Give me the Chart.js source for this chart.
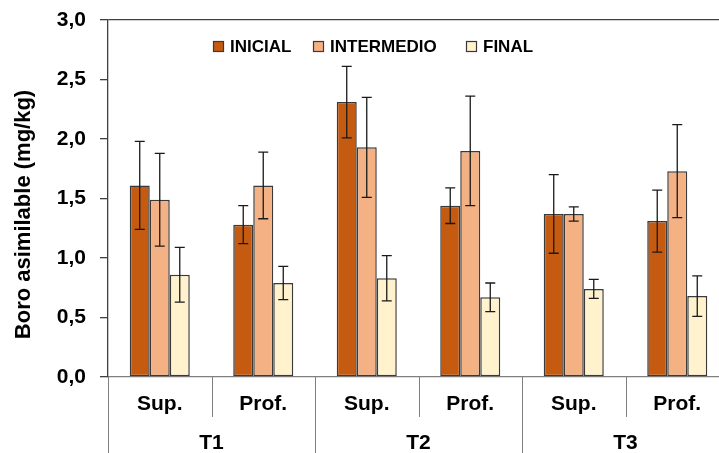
<!DOCTYPE html>
<html lang="es">
<head>
<meta charset="utf-8">
<title>Boro asimilable</title>
<script src="https://cdn.jsdelivr.net/npm/chart.js@4.4.1/dist/chart.umd.min.js"></script>
<style>
  html, body { margin: 0; padding: 0; background: #ffffff; overflow: hidden; }
  #wrap { position: relative; width: 729px; height: 453px; }
</style>
</head>
<body>
<div id="wrap"><canvas id="chart"></canvas></div>
<script>
// Profundidad de muestreo (eje principal) y tratamiento (eje agrupado)
const depths = ['Sup.', 'Prof.', 'Sup.', 'Prof.', 'Sup.', 'Prof.'];
const treatments = ['T1', 'T2', 'T3'];
const yTicks = [0, 0.5, 1, 1.5, 2, 2.5, 3];

// Boro asimilable (mg/kg): media y desviación por muestreo
const inicial = [1.61, 1.28, 2.31, 1.44, 1.37, 1.31];
const inicialErr = [0.37, 0.16, 0.30, 0.15, 0.33, 0.26];
const intermedio = [1.49, 1.61, 1.93, 1.90, 1.37, 1.73];
const intermedioErr = [0.39, 0.28, 0.42, 0.46, 0.06, 0.39];
const final = [0.86, 0.79, 0.83, 0.67, 0.74, 0.68];
const finalErr = [0.23, 0.14, 0.19, 0.12, 0.08, 0.17];

const FONT = '"Liberation Sans", Arial, sans-serif';
Chart.defaults.font.family = FONT;
Chart.defaults.color = '#000000';

const datasets = [
  { label: 'INICIAL', data: inicial, err: inicialErr, backgroundColor: '#C55A11' },
  { label: 'INTERMEDIO', data: intermedio, err: intermedioErr, backgroundColor: '#F4B183' },
  { label: 'FINAL', data: final, err: finalErr, backgroundColor: '#FFF2CC' }
].map(d => Object.assign(d, {
  borderColor: '#3a3a3a',
  borderWidth: 1.5,
  borderSkipped: false,
  categoryPercentage: 0.58,
  barPercentage: 1.0
}));

// Barras de error (media ± desviación) sobre cada barra
const errorBars = {
  id: 'errorBars',
  afterDatasetsDraw(chart) {
    const ctx = chart.ctx;
    const y = chart.scales.y;
    ctx.save();
    ctx.strokeStyle = '#1a1a1a';
    ctx.lineWidth = 1.3;
    chart.data.datasets.forEach((ds, di) => {
      const meta = chart.getDatasetMeta(di);
      meta.data.forEach((bar, i) => {
        const v = ds.data[i], e = ds.err[i];
        const yTop = y.getPixelForValue(v + e);
        const yBot = y.getPixelForValue(v - e);
        const half = 5;
        ctx.beginPath();
        ctx.moveTo(bar.x, yTop); ctx.lineTo(bar.x, yBot);
        ctx.moveTo(bar.x - half, yTop); ctx.lineTo(bar.x + half, yTop);
        ctx.moveTo(bar.x - half, yBot); ctx.lineTo(bar.x + half, yBot);
        ctx.stroke();
      });
    });
    ctx.restore();
  }
};

// Leyenda dentro del área de trazado, título del eje Y y separadores de categorías
const decorations = {
  id: 'decorations',
  afterDraw(chart) {
    const ctx = chart.ctx;
    const area = chart.chartArea;
    const x = chart.scales.x;
    ctx.save();

    // separadores verticales bajo el eje X
    const step = x.width / depths.length;
    ctx.strokeStyle = '#7f7f7f';
    ctx.lineWidth = 1;
    for (let i = 0; i <= depths.length; i++) {
      const px = Math.round(x.left + i * step) + 0.5;
      const end = (i % 2 === 0) ? chart.height : area.bottom + 40;
      ctx.beginPath();
      ctx.moveTo(px, area.bottom);
      ctx.lineTo(px, end);
      ctx.stroke();
    }

    // leyenda
    ctx.font = 'bold 17px ' + FONT;
    ctx.textBaseline = 'middle';
    ctx.textAlign = 'left';
    const offsets = [105, 205, 358];
    chart.data.datasets.forEach((ds, i) => {
      const bx = area.left + offsets[i];
      const by = area.top + 21;
      ctx.fillStyle = ds.backgroundColor;
      ctx.fillRect(bx, by, 11, 11);
      ctx.strokeStyle = '#3a3a3a';
      ctx.lineWidth = 1.2;
      ctx.strokeRect(bx + 0.5, by + 0.5, 10, 10);
      ctx.fillStyle = '#000000';
      ctx.fillText(ds.label, bx + 17, by + 6.5);
    });

    // título del eje Y
    ctx.translate(24, (area.top + area.bottom) / 2 + 16);
    ctx.rotate(-Math.PI / 2);
    ctx.textAlign = 'center';
    ctx.font = 'bold 22px ' + FONT;
    ctx.fillText('Boro asimilable (mg/kg)', 0, 0);
    ctx.restore();
  }
};

new Chart(document.getElementById('chart'), {
  type: 'bar',
  data: { labels: depths, datasets },
  options: {
    responsive: true,
    maintainAspectRatio: false,
    animation: false,
    layout: { padding: { top: 20, right: 0, bottom: 0, left: 0 } },
    plugins: { legend: { display: false }, tooltip: { enabled: false } },
    scales: {
      x: {
        position: 'bottom',
        weight: 0,
        grid: { display: false },
        border: { display: true, color: '#7f7f7f', width: 1.2 },
        ticks: { font: { size: 21, weight: 'bold' }, padding: 7, color: '#000' },
        afterFit(s) { s.height = 40; }
      },
      x2: {
        type: 'category',
        position: 'bottom',
        weight: 1,
        labels: treatments,
        grid: { display: false },
        border: { display: false },
        ticks: { font: { size: 21, weight: 'bold' }, padding: 6, color: '#000' },
        afterFit(s) { s.height = 36; }
      },
      y: {
        min: 0,
        max: 3,
        afterBuildTicks(s) { s.ticks = yTicks.map(v => ({ value: v })); },
        grid: {
          drawOnChartArea: true,
          drawTicks: true,
          tickLength: 8,
          tickColor: '#404040',
          color: c => (c.tick && c.tick.value === 3) ? '#404040' : 'rgba(0,0,0,0)',
          lineWidth: 1.3
        },
        border: { display: true, color: '#404040', width: 1.3 },
        ticks: {
          font: { size: 21, weight: 'bold' },
          padding: 14,
          color: '#000',
          callback: v => Number(v).toFixed(1).replace('.', ',')
        },
        afterFit(s) { s.width = 108; s.paddingTop = 0; s.paddingBottom = 0; }
      }
    }
  },
  plugins: [errorBars, decorations]
});
</script>
</body>
</html>
